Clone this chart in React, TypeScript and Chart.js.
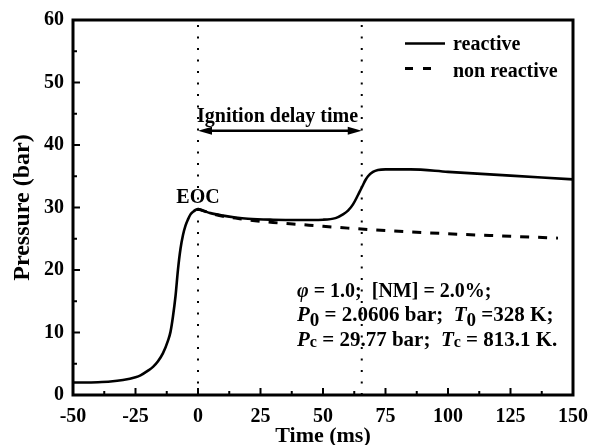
import React, { useEffect, useRef } from "react";
import { Chart, registerables } from "chart.js";

Chart.register(...registerables);

// ---- data ----
const reactiveTime = [
  -50, -40, -35, -30, -25, -23, -20, -18, -16, -14, -12, -11, -10, -9, -8, -7, -6, -5, -4, -3, -2, -1,
  0, 2, 5, 10, 15, 20, 30, 40, 50, 55, 58, 60, 62, 64, 65, 66, 67, 68, 70, 72, 75, 85, 100, 125, 150,
];
const reactivePressure = [
  2.0, 2.05, 2.15, 2.4, 2.85, 3.15, 3.9, 4.5, 5.4, 6.7, 8.7, 10.1, 12.6, 15.8, 20.1, 23.4, 25.6, 27.1, 28.1, 28.9, 29.3, 29.6,
  29.75, 29.5, 29.1, 28.7, 28.4, 28.2, 28.05, 28.0, 28.05, 28.3, 28.9, 29.5, 30.5, 32.0, 32.8, 33.6, 34.4, 35.0, 35.7, 36.0, 36.1, 36.1, 35.7, 35.1, 34.5,
];
const nonReactiveTime = [0, 5, 10, 15, 20, 30, 40, 50, 60, 75, 100, 125, 144];
const nonReactivePressure = [29.75, 29.1, 28.6, 28.3, 28.0, 27.6, 27.3, 27.0, 26.7, 26.3, 25.8, 25.4, 25.1];

const seriesLabels = ["reactive", "non reactive"];
const markerTimes = [0, 65.5]; // EOC and ignition
const markerLabel = "EOC";
const eocLabelPressure = 31.5;
const arrowPressure = 42.3;
const arrowLabel = "Ignition delay time";
const xMin = -50, xMax = 150, xStep = 25;
const yMin = 0, yMax = 60, yStep = 10;
const xTitle = "Time (ms)";
const yTitle = "Pressure (bar)";

const FONT = "'Liberation Serif', 'Times New Roman', serif";

type Part = { t: string; italic?: boolean; size?: number; dy?: number };

const infoLines: Part[][] = [
  [{ t: "\u03c6", italic: true }, { t: " = 1.0;  [NM] = 2.0%;" }],
  [
    { t: "P", italic: true, size: 21 },
    { t: "0", size: 19, dy: 5 },
    { t: " = 2.0606 bar;  ", size: 21 },
    { t: "T", italic: true, size: 21 },
    { t: "0", size: 19, dy: 5 },
    { t: " =328 K;", size: 21 },
  ],
  [
    { t: "P", italic: true, size: 21 },
    { t: "c", size: 16, dy: 1 },
    { t: " = 29.77 bar;  ", size: 21 },
    { t: "T", italic: true, size: 21 },
    { t: "c", size: 16, dy: 1 },
    { t: " = 813.1 K.", size: 21 },
  ],
];

function drawRich(ctx: CanvasRenderingContext2D, x: number, y: number, parts: Part[]) {
  let cx = x;
  for (const p of parts) {
    ctx.font = `${p.italic ? "italic " : ""}bold ${p.size ?? 20}px ${FONT}`;
    ctx.fillText(p.t, cx, y + (p.dy ?? 0));
    cx += ctx.measureText(p.t).width;
  }
}

const decorPlugin = {
  id: "decor",
  afterDraw(chart: any) {
    const ctx: CanvasRenderingContext2D = chart.ctx;
    const xs = chart.scales.x;
    const ys = chart.scales.y;
    const a = chart.chartArea;
    ctx.save();
    ctx.fillStyle = "#000";
    ctx.strokeStyle = "#000";

    // frame
    ctx.lineWidth = 3;
    ctx.setLineDash([]);
    ctx.strokeRect(a.left, a.top, a.right - a.left, a.bottom - a.top);

    // inward ticks
    ctx.lineWidth = 2;
    for (let v = xMin; v <= xMax + 1e-6; v += xStep / 2) {
      const px = xs.getPixelForValue(v);
      const major = Math.abs(((v - xMin) / xStep) - Math.round((v - xMin) / xStep)) < 1e-6;
      const len = major ? 7 : 4;
      ctx.beginPath();
      ctx.moveTo(px, a.bottom);
      ctx.lineTo(px, a.bottom - len);
      ctx.stroke();
    }
    for (let v = yMin; v <= yMax + 1e-6; v += yStep / 2) {
      const py = ys.getPixelForValue(v);
      const major = Math.abs(((v - yMin) / yStep) - Math.round((v - yMin) / yStep)) < 1e-6;
      const len = major ? 7 : 4;
      ctx.beginPath();
      ctx.moveTo(a.left, py);
      ctx.lineTo(a.left + len, py);
      ctx.stroke();
    }

    // arrow
    const x0 = xs.getPixelForValue(markerTimes[0]);
    const x1 = xs.getPixelForValue(markerTimes[1]);
    const ya = ys.getPixelForValue(arrowPressure);
    ctx.lineWidth = 2.5;
    ctx.beginPath();
    ctx.moveTo(x0 + 8, ya);
    ctx.lineTo(x1 - 8, ya);
    ctx.stroke();
    ctx.beginPath();
    ctx.moveTo(x0, ya);
    ctx.lineTo(x0 + 14, ya - 4);
    ctx.lineTo(x0 + 14, ya + 4);
    ctx.closePath();
    ctx.fill();
    ctx.beginPath();
    ctx.moveTo(x1, ya);
    ctx.lineTo(x1 - 14, ya - 4);
    ctx.lineTo(x1 - 14, ya + 4);
    ctx.closePath();
    ctx.fill();

    // texts
    ctx.font = `bold 20px ${FONT}`;
    ctx.textBaseline = "alphabetic";
    ctx.textAlign = "left";
    ctx.fillText(arrowLabel, x0 - 1, ya - 9);

    ctx.textAlign = "center";
    ctx.textBaseline = "middle";
    ctx.fillText(markerLabel, x0, ys.getPixelForValue(eocLabelPressure));

    // info block
    ctx.textAlign = "left";
    ctx.textBaseline = "alphabetic";
    const bx = 297;
    const baselines = [297, 321, 346];
    infoLines.forEach((ln, i) => drawRich(ctx, bx, baselines[i], ln));

    // legend
    ctx.font = `bold 20px ${FONT}`;
    ctx.lineWidth = 2.5;
    ctx.beginPath();
    ctx.moveTo(405, 43.5);
    ctx.lineTo(445, 43.5);
    ctx.stroke();
    ctx.lineWidth = 3;
    ctx.setLineDash([8, 10]);
    ctx.beginPath();
    ctx.moveTo(405, 68.5);
    ctx.lineTo(433, 68.5);
    ctx.stroke();
    ctx.setLineDash([]);
    ctx.fillText(seriesLabels[0], 453, 50);
    ctx.fillText(seriesLabels[1], 453, 76.5);

    ctx.restore();
  },
};

export default function App() {
  const ref = useRef<HTMLCanvasElement | null>(null);
  useEffect(() => {
    if (!ref.current) return;
    const reactive = reactiveTime.map((t, i) => ({ x: t, y: reactivePressure[i] }));
    const nonReactive = nonReactiveTime.map((t, i) => ({ x: t, y: nonReactivePressure[i] }));
    const markerSets = markerTimes.map((t) => ({
      label: "marker" + t,
      data: [
        { x: t, y: yMin },
        { x: t, y: yMax },
      ],
      borderColor: "#000",
      borderWidth: 2,
      borderDash: [2, 9.5],
      pointRadius: 0,
      tension: 0,
    }));
    const chart = new Chart(ref.current, {
      type: "line",
      data: {
        datasets: [
          ...markerSets,
          {
            label: seriesLabels[1],
            data: nonReactive,
            borderColor: "#000",
            borderWidth: 3,
            borderDash: [9, 9],
            pointRadius: 0,
            cubicInterpolationMode: "monotone",
          },
          {
            label: seriesLabels[0],
            data: reactive,
            borderColor: "#000",
            borderWidth: 2.6,
            pointRadius: 0,
            cubicInterpolationMode: "monotone",
          },
        ],
      } as any,
      options: {
        responsive: false,
        animation: false,
        layout: { padding: { left: 0, right: 17, top: 20, bottom: 0 } },
        plugins: { legend: { display: false }, tooltip: { enabled: false } },
        scales: {
          x: {
            type: "linear",
            min: xMin,
            max: xMax,
            grid: { display: false, drawTicks: false },
            border: { display: false },
            ticks: {
              stepSize: xStep,
              color: "#000",
              padding: 10,
              font: { family: FONT, weight: "bold", size: 20 },
            },
            title: {
              display: true,
              text: xTitle,
              color: "#000",
              padding: { top: 0, bottom: -2 },
              font: { family: FONT, weight: "bold", size: 22, lineHeight: 1 },
            },
            afterFit: (s: any) => {
              s.height = 50;
              s.paddingLeft = 0;
              s.paddingRight = 0;
            },
          },
          y: {
            type: "linear",
            min: yMin,
            max: yMax,
            grid: { display: false, drawTicks: false },
            border: { display: false },
            ticks: {
              stepSize: yStep,
              color: "#000",
              padding: 9,
              font: { family: FONT, weight: "bold", size: 20 },
            },
            title: {
              display: true,
              text: yTitle,
              color: "#000",
              padding: { top: 8, bottom: 0 },
              font: { family: FONT, weight: "bold", size: 24, lineHeight: 1.2 },
            },
            afterFit: (s: any) => {
              s.width = 73;
              s.paddingTop = 0;
              s.paddingBottom = 0;
            },
          },
        },
      } as any,
      plugins: [decorPlugin],
    });
    return () => chart.destroy();
  }, []);
  return (
    <div style={{ position: "fixed", left: 0, top: 0, width: 590, height: 445, background: "#fff" }}>
      <canvas ref={ref} width={590} height={445} />
    </div>
  );
}
